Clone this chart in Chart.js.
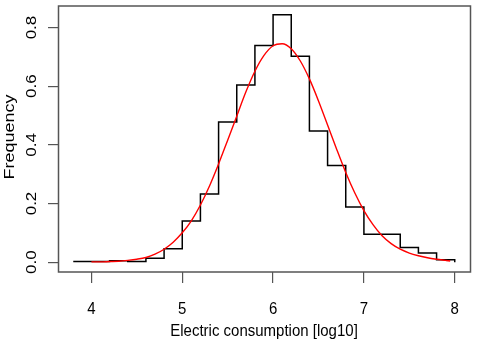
<!DOCTYPE html>
<html>
<head>
<meta charset="utf-8">
<script src="https://cdn.jsdelivr.net/npm/chart.js@4"></script>
<style>
  html, body { margin: 0; padding: 0; background: #fff; }
  canvas { display: block; }
</style>
</head>
<body>
<canvas id="chart" width="477" height="345"></canvas>
<script>
// histogram breaks (log10 electric consumption) and density per bin
const breaks = [3.8, 4.0, 4.2, 4.4, 4.6, 4.8, 5.0, 5.2, 5.4, 5.6, 5.8,
                6.0, 6.2, 6.4, 6.6, 6.8, 7.0, 7.2, 7.4, 7.6, 7.8, 8.0];
const density = [0.002, 0.002, 0.005, 0.002, 0.013, 0.046, 0.140, 0.232, 0.478, 0.604, 0.739,
                 0.844, 0.702, 0.447, 0.330, 0.188, 0.095, 0.095, 0.050, 0.031, 0.008];

// fitted normal curve (red)
const curveX = [4.0, 4.1, 4.2, 4.3, 4.4, 4.5, 4.6, 4.7, 4.8, 4.9, 5.0, 5.1, 5.2, 5.3, 5.4,
                5.5, 5.6, 5.7, 5.8, 5.9, 6.0, 6.1, 6.2, 6.3, 6.4, 6.5, 6.6, 6.7, 6.8, 6.9,
                7.0, 7.1, 7.2, 7.3, 7.4, 7.5, 7.6, 7.7, 7.8, 7.9, 7.95];
const curveY = [0.001, 0.001, 0.002, 0.003, 0.006, 0.010, 0.016, 0.027, 0.044, 0.068, 0.100,
                0.141, 0.195, 0.260, 0.335, 0.416, 0.498, 0.580, 0.651, 0.705, 0.738, 0.745,
                0.728, 0.686, 0.625, 0.550, 0.468, 0.385, 0.306, 0.236, 0.176, 0.128, 0.090,
                0.063, 0.044, 0.031, 0.022, 0.015, 0.010, 0.006, 0.004];

const xTicks = [4, 5, 6, 7, 8];
const xTickLabels = ['4', '5', '6', '7', '8'];
const yTicks = [0.0, 0.2, 0.4, 0.6, 0.8];
const yTickLabels = ['0.0', '0.2', '0.4', '0.6', '0.8'];
const xTitle = 'Electric consumption [log10]';
const yTitle = 'Frequency';

const FONT = 'Liberation Sans, Arial, Helvetica, sans-serif';
const AXIS_GREY = '#555';
const STRETCH = 1.13;   // the original png is a bit taller than its text

const stepPoints = breaks.map((b, i) => ({x: b, y: i < density.length ? density[i] : 0}));
const curvePoints = curveX.map((x, i) => ({x: x, y: curveY[i]}));

function hText(ctx, txt, x, y) {
    ctx.save();
    ctx.translate(x, y);
    ctx.scale(1, STRETCH);
    ctx.fillText(txt, 0, 0);
    ctx.restore();
}

function vText(ctx, txt, x, y, stretch) {
    ctx.save();
    ctx.translate(x, y);
    ctx.rotate(-Math.PI / 2);
    ctx.scale(stretch, 1);
    ctx.fillText(txt, 0, 0);
    ctx.restore();
}

// box around plot region + axis text (R style)
const rStyle = {
    id: 'rStyle',
    afterDraw(chart) {
        const {ctx, chartArea: a} = chart;
        const xs = chart.scales.x, ys = chart.scales.y;
        ctx.save();
        ctx.strokeStyle = AXIS_GREY;
        ctx.lineWidth = 1.5;
        ctx.strokeRect(a.left + 0.5, a.top, a.right - a.left, a.bottom - a.top);

        ctx.fillStyle = '#000';
        ctx.font = '15px ' + FONT;
        ctx.textAlign = 'center';
        ctx.textBaseline = 'middle';
        xTicks.forEach((v, i) => hText(ctx, xTickLabels[i], xs.getPixelForValue(v), 309));
        yTicks.forEach((v, i) => vText(ctx, yTickLabels[i], 32, ys.getPixelForValue(v), STRETCH));
        hText(ctx, xTitle, (a.left + a.right) / 2, 331.5);
        vText(ctx, yTitle, 10, (a.top + a.bottom) / 2 - 2, 1.2);
        ctx.restore();
    }
};

new Chart(document.getElementById('chart'), {
    type: 'line',
    data: {
        datasets: [{
            label: 'density',
            data: stepPoints,
            stepped: 'before',
            borderColor: '#000',
            borderWidth: 1.5,
            pointRadius: 0,
            fill: false,
            order: 2
        }, {
            label: 'normal',
            data: curvePoints,
            borderColor: '#ff0000',
            borderWidth: 1.4,
            pointRadius: 0,
            cubicInterpolationMode: 'monotone',
            fill: false,
            order: 1
        }]
    },
    options: {
        responsive: false,
        animation: false,
        layout: { padding: { top: 6, right: 7, left: 0, bottom: 0 } },
        plugins: { legend: { display: false }, tooltip: { enabled: false } },
        scales: {
            x: {
                type: 'linear',
                min: 3.632,
                max: 8.168,
                afterBuildTicks: s => { s.ticks = xTicks.map(v => ({value: v})); },
                afterFit: s => { s.height = 73; },
                border: { display: false },
                grid: { drawOnChartArea: false, drawTicks: true, tickLength: 11, color: AXIS_GREY, lineWidth: 1.2 },
                ticks: { display: false }
            },
            y: {
                type: 'linear',
                min: -0.0336,
                max: 0.8736,
                afterBuildTicks: s => { s.ticks = yTicks.map(v => ({value: v})); },
                afterFit: s => { s.width = 58; },
                border: { display: false },
                grid: { drawOnChartArea: false, drawTicks: true, tickLength: 10, color: AXIS_GREY, lineWidth: 1.2 },
                ticks: { display: false }
            }
        }
    },
    plugins: [rStyle]
});
</script>
</body>
</html>
